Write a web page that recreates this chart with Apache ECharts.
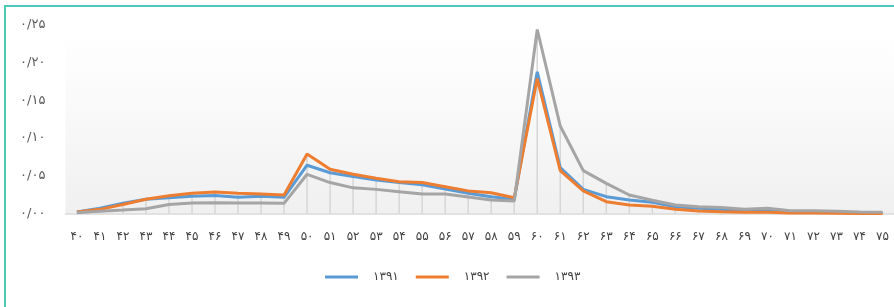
<!DOCTYPE html>
<html>
<head>
<meta charset="utf-8">
<script src="https://cdn.jsdelivr.net/npm/echarts@6/dist/echarts.min.js"></script>
<style>
html,body{margin:0;padding:0;background:#fff;}
#main{width:894px;height:307px;}
</style>
</head>
<body>
<div id="main"></div>
<script>
// ages 40..75
var ages = [40,41,42,43,44,45,46,47,48,49,50,51,52,53,54,55,56,57,58,59,60,61,62,63,64,65,66,67,68,69,70,71,72,73,74,75];
var seriesNames = ['۱۳۹۱','۱۳۹۲','۱۳۹۳'];
var yTicks = [0,0.05,0.10,0.15,0.20,0.25];

var v1391 = [0.002,0.007,0.0135,0.019,0.021,0.023,0.024,0.0215,0.0228,0.0215,0.064,0.054,0.049,0.0444,0.041,0.038,0.0325,0.0268,0.0223,0.019,0.188,0.061,0.032,0.0223,0.018,0.015,0.009,0.007,0.0056,0.0037,0.0037,0.0025,0.002,0.0015,0.0012,0.001];
var v1392 = [0.002,0.0055,0.012,0.019,0.0236,0.0268,0.0285,0.027,0.026,0.0245,0.079,0.0586,0.052,0.0467,0.042,0.041,0.0356,0.030,0.0276,0.021,0.179,0.057,0.030,0.0157,0.0113,0.0095,0.0056,0.0033,0.0024,0.0016,0.0015,0.0005,0.0005,0.0003,0.0001,0.0001];
var v1393 = [0.001,0.003,0.0046,0.0064,0.012,0.014,0.0143,0.014,0.014,0.0135,0.052,0.041,0.034,0.032,0.029,0.026,0.026,0.022,0.018,0.0166,0.244,0.116,0.0568,0.040,0.0245,0.0175,0.0113,0.009,0.008,0.0056,0.007,0.0037,0.0035,0.003,0.002,0.0015];

var colors = ['#5B9BD5','#ED7D31','#A5A5A5'];

function toFa(s){
	var d = '۰۱۲۳۴۵۶۷۸۹';
	return String(s).replace(/[0-9]/g,function(c){ return d.charAt(+c); });
}

// drop lines go up to the highest of the three series
var dropVals = [];
for(var i=0;i<ages.length;i++){
	dropVals.push(Math.max(v1391[i],v1392[i],v1393[i]));
}

var myChart = echarts.init(document.getElementById('main'));
var option = {
	animation:false,
	backgroundColor:'#fff',
	textStyle:{fontFamily:'DejaVu Sans'},
	graphic:[{
		type:'rect',
		shape:{x:5,y:6,width:1000,height:1000},
		style:{fill:'none',stroke:'#4ccab9',lineWidth:2},
		z:100
	}],
	grid:{
		left:65.4,top:25,width:833,bottom:93.5,
		show:true,borderWidth:0,
		backgroundColor:new echarts.graphic.LinearGradient(0,0,0,1,[
			{offset:0,color:'#ffffff'},
			{offset:0.2,color:'#fdfdfd'},
			{offset:1,color:'#f0f0f0'}
		])
	},
	legend:{
		data:seriesNames,
		left:320,top:266,
		icon:'rect',itemWidth:33,itemHeight:3,itemGap:17,
		textStyle:{fontFamily:'DejaVu Sans',fontSize:12,color:'#404040',padding:[0,0,0,10]}
	},
	xAxis:{
		type:'category',
		data:ages,
		boundaryGap:true,
		axisLine:{lineStyle:{color:'#d9d9d9',width:1.5}},
		axisTick:{show:false},
		axisLabel:{interval:0,margin:17,fontSize:12,color:'#404040',
			formatter:function(v){ return toFa(v); }},
		splitLine:{show:false}
	},
	yAxis:{
		type:'value',
		min:yTicks[0],max:yTicks[yTicks.length-1],interval:0.05,
		axisLine:{show:false},
		axisTick:{show:false},
		splitLine:{show:false},
		axisLabel:{margin:20,fontSize:13,color:'#595959',
			formatter:function(v){ return toFa(v.toFixed(2)).replace('.','/'); }}
	},
	series:[
		{
			name:'drop',type:'bar',data:dropVals,barWidth:1.5,silent:true,
			itemStyle:{color:'#d6d6d6'},z:1
		},
		{
			name:seriesNames[0],type:'line',data:v1391,showSymbol:false,
			lineStyle:{width:3,color:colors[0]},itemStyle:{color:colors[0]},z:3
		},
		{
			name:seriesNames[1],type:'line',data:v1392,showSymbol:false,
			lineStyle:{width:3,color:colors[1]},itemStyle:{color:colors[1]},z:3
		},
		{
			name:seriesNames[2],type:'line',data:v1393,showSymbol:false,
			lineStyle:{width:3,color:colors[2]},itemStyle:{color:colors[2]},z:3
		}
	]
};
myChart.setOption(option);
</script>
</body>
</html>
